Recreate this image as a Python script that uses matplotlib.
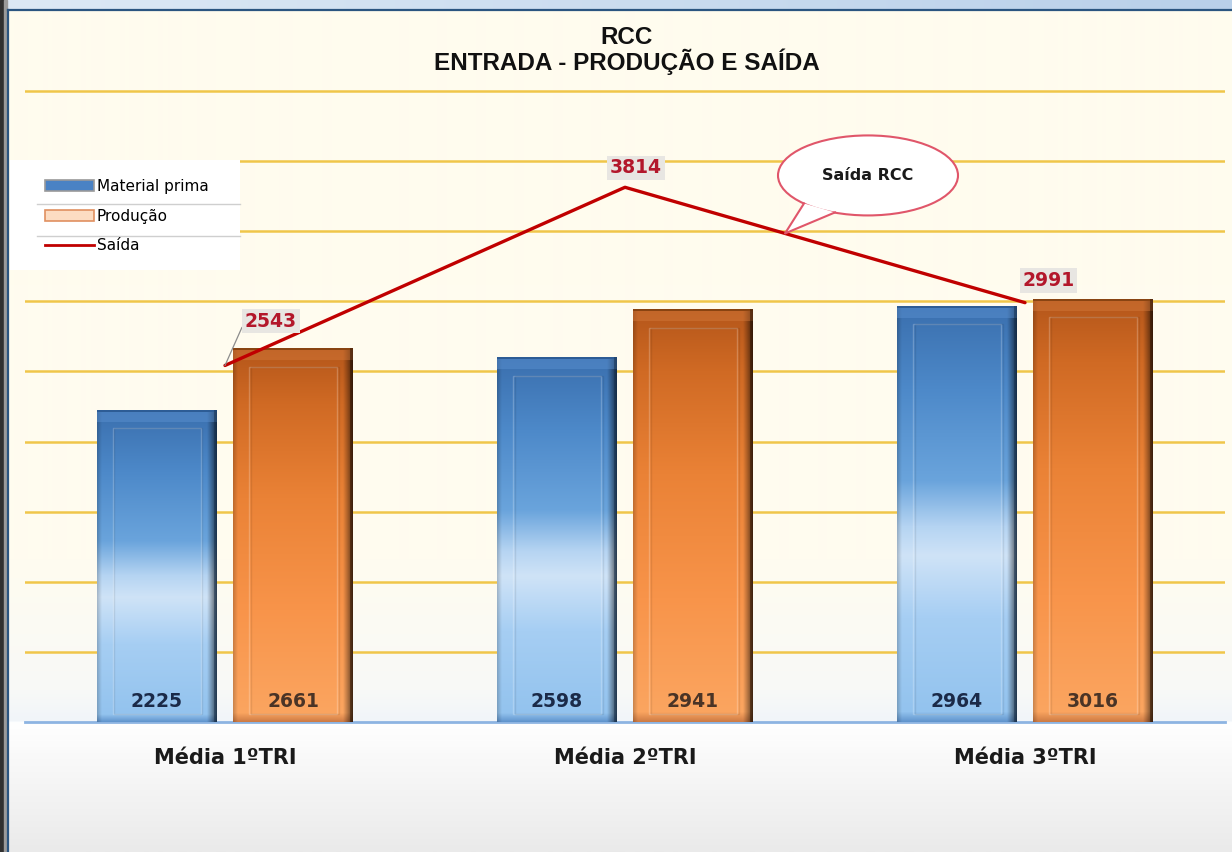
import numpy as np
import matplotlib
matplotlib.use('Agg')
import matplotlib.pyplot as plt
from matplotlib.patches import Rectangle, Ellipse, Polygon, Patch
from matplotlib.lines import Line2D
from matplotlib.colors import to_rgb

# ---------------- data ----------------
categories = ['Média 1ºTRI', 'Média 2ºTRI', 'Média 3ºTRI']
materia_prima = [2225, 2598, 2964]
producao = [2661, 2941, 3016]
saida = [2543, 3814, 2991]
series_names = ['Material prima', 'Produção', 'Saída']
title_lines = ['RCC', 'ENTRADA - PRODUÇÃO E SAÍDA']
callout_text = 'Saída RCC'

W, H = 1232, 852
fig = plt.figure(figsize=(W / 100, H / 100), dpi=100)

# ---------------- background ----------------
bg = fig.add_axes([0, 0, 1, 1], zorder=-10)
bg.set_xlim(0, W)
bg.set_ylim(H, 0)
bg.axis('off')

def vgrad(stops, colors, n):
    f = np.linspace(stops[0], stops[-1], n)
    rgb = [to_rgb(c) for c in colors]
    return np.stack([np.interp(f, stops, [c[i] for c in rgb]) for i in range(3)], axis=-1)

g = vgrad([10, 560, 690, 721, 723, 852],
          ['#FFFCEE', '#FFFCF0', '#F8F9F7', '#F1F5FA', '#FFFFFF', '#EAEAEA'], 842)
bg.imshow(g[:, None, :], extent=[0, W, H, 10], aspect='auto', interpolation='bilinear')
top = vgrad([0, 1], ['#DDE9F5', '#B9D0EA'], 200)
bg.imshow(top[None, :, :], extent=[0, W, 9, 0], aspect='auto', interpolation='bilinear')
bg.plot([8, W], [9.5, 9.5], color='#2B5580', lw=1.6)
bg.add_patch(Rectangle((0, 0), 4, H, color='#303030'))
bg.add_patch(Rectangle((4, 0), 3, H, color='#9A9A9A'))
bg.plot([8, 8], [9.5, H], color='#2B5580', lw=1.6)
bg.set_xlim(0, W)
bg.set_ylim(H, 0)

# ---------------- main axes ----------------
ax = fig.add_axes([25 / W, 130 / H, 1200 / W, 701 / H])
ax.patch.set_alpha(0)
x = np.arange(len(categories))
off, bw = 0.17, 0.30

ax.set_yticks(np.arange(500, 5000, 500))
ax.yaxis.grid(True, color='#F0C64A', lw=1.8, zorder=0)
ax.set_axisbelow(True)
for s in ['left', 'right', 'top']:
    ax.spines[s].set_visible(False)
ax.spines['bottom'].set_color('#8DB4E2')
ax.spines['bottom'].set_linewidth(2)
ax.tick_params(left=False, labelleft=False, bottom=False)
ax.set_xticks(x, categories, fontsize=15, fontweight='bold', color='#1A1A1A',
              family='DejaVu Sans')
ax.tick_params(axis='x', pad=15)

bars_m = ax.bar(x - off, materia_prima, bw, color='none', zorder=2)
bars_p = ax.bar(x + off, producao, bw, color='none', zorder=2)
ax.set_xlim(-0.5, 2.5)
ax.set_ylim(0, 5000)

px_x = 1200 / 3.0
px_y = 701 / 5000.0

blue_stops = ([0.0, 0.025, 0.25, 0.40, 0.47, 0.58, 0.80, 1.0],
              ['#5F93CC', '#93C3EE', '#A6CEF3', '#CFE3F7', '#B5D4F2', '#6AA4DC', '#4D89C9', '#3A6FAE'])
orange_stops = ([0.0, 0.025, 0.30, 0.60, 0.85, 1.0],
                ['#CC7A44', '#FBA560', '#F8944A', '#EA8236', '#D06A24', '#B4561A'])

def draw_bar(patch, stops, colors, edge_dark, top_col, edge_col, zord=3):
    x0, w = patch.get_x(), patch.get_width()
    h = patch.get_height()
    wpx, hpx = int(round(w * px_x)), int(round(h * px_y))
    fy = (np.arange(hpx) + 0.5) / hpx
    rgb = [to_rgb(c) for c in colors]
    col = np.stack([np.interp(fy, stops, [c[i] for c in rgb]) for i in range(3)], axis=-1)
    img = np.repeat(col[:, None, :], wpx, axis=1)
    pxs = np.arange(wpx) + 0.5
    r = wpx - pxs
    shade = np.where(r < 10, 0.30 + 0.70 * (r / 10) ** 0.8, 1.0)
    shade *= np.where(pxs < 5, 0.80 + 0.20 * (pxs / 5), 1.0)
    img = img * shade[None, :, None]
    dt = hpx - (np.arange(hpx) + 0.5)
    tc = np.array(to_rgb(top_col))
    band = (dt < 12) & (dt >= 2)
    img[band] = img[band] * 0.55 + tc * 0.45
    ec = np.array(to_rgb(edge_col))
    img[dt < 2] = ec
    dark = np.array(to_rgb(edge_dark))
    rmask = r < 3
    img[:, rmask] = img[:, rmask] * 0.5 + dark * 0.5
    ax.imshow(np.clip(img, 0, 1), extent=[x0, x0 + w, 0, h], origin='lower',
              aspect='auto', zorder=zord, interpolation='bilinear')
    ix, iy = 16 / px_x, 18 / px_y
    ax.add_patch(Rectangle((x0 + ix, 8 / px_y), w - 2 * ix, h - iy - 8 / px_y,
                           fill=False, ec='white', alpha=0.22, lw=1.0, zorder=zord + 0.1))
    ax.add_patch(Rectangle((x0 + ix + 1.5 / px_x, 8 / px_y), w - 2 * ix, h - iy - 8 / px_y,
                           fill=False, ec='black', alpha=0.08, lw=1.0, zorder=zord + 0.1))

for b in bars_m:
    draw_bar(b, *blue_stops, edge_dark='#15304F', top_col='#5C92D2', edge_col='#2D5C95')
for b in bars_p:
    draw_bar(b, *orange_stops, edge_dark='#2A1406', top_col='#D47A3C', edge_col='#8A4412')

for b, v in zip(bars_m, materia_prima):
    ax.annotate(f'{v}', (b.get_x() + b.get_width() / 2, 0), xytext=(0, 15),
                textcoords='offset points', ha='center', va='center',
                fontsize=13.5, fontweight='bold', color='#1B2A48', zorder=5)
for b, v in zip(bars_p, producao):
    ax.annotate(f'{v}', (b.get_x() + b.get_width() / 2, 0), xytext=(0, 15),
                textcoords='offset points', ha='center', va='center',
                fontsize=13.5, fontweight='bold', color='#4A3426', zorder=5)

ax.set_xlim(-0.5, 2.5)
ax.set_ylim(0, 5000)

# line series
ax.plot(x, saida, color='#C00000', lw=2.4, zorder=6, solid_capstyle='round')
label_offsets = [(33, 32), (8, 14), (17, 16)]
for i, (xi, v) in enumerate(zip(x, saida)):
    kw = {}
    if i == 0:
        kw['arrowprops'] = dict(arrowstyle='-', color='#8C8C8C', lw=0.9,
                                shrinkA=0, shrinkB=0, relpos=(0, 0.5))
    ax.annotate(f'{v}', (xi, v), xytext=label_offsets[i], textcoords='offset points',
                ha='center', va='center', fontsize=13.5, fontweight='bold',
                color='#B3172B', zorder=7,
                bbox=dict(boxstyle='square,pad=0.15', fc='#E8E6E2', ec='none'), **kw)

# callout bubble (display pixels, anchored on the line segment)
fig.canvas.draw()
t = 0.40
tip_d = ax.transData.transform((x[1] + t * (x[2] - x[1]), saida[1] + t * (saida[2] - saida[1])))
cx, cy = tip_d[0] + 83, tip_d[1] + 58
b1 = (cx - 64, cy - 28)
b2 = (cx - 33, cy - 37)
ell = Ellipse((cx, cy), 180, 80, transform=None, fc='white', ec='#E0566A', lw=1.5, zorder=20)
fig.add_artist(ell)
tri = Polygon([b1, tuple(tip_d), b2], closed=True, transform=None, fc='white', ec='none', zorder=21)
fig.add_artist(tri)
fig.add_artist(Line2D([b1[0], tip_d[0], b2[0]], [b1[1], tip_d[1], b2[1]], transform=None,
                      color='#E0566A', lw=1.5, zorder=22))
fig.text(cx / W, cy / H, callout_text, ha='center', va='center', fontsize=11.5,
         fontweight='bold', color='#1A1A1A', zorder=23)

# title
for i, line in enumerate(title_lines):
    fig.text(627 / W, 1 - (37 + 25 * i) / H, line, ha='center', va='center',
             fontsize=17.5, fontweight='bold', family='Liberation Sans',
             color='#111111')

# legend
fig.add_artist(Rectangle((10 / W, 1 - 270 / H), 230 / W, 110 / H, transform=fig.transFigure,
                         fc='white', ec='none', zorder=3))
for yy in [204, 236]:
    fig.add_artist(Line2D([37 / W, 240 / W], [1 - yy / H, 1 - yy / H], transform=fig.transFigure,
                          color='#CFCFCF', lw=1, zorder=4))
handles = [Patch(fc='#4A82C4', ec='#9A9A9A', lw=1.2),
           Patch(fc='#FCDCC2', ec='#E09060', lw=1.2),
           Line2D([], [], color='#C00000', lw=2)]
leg = fig.legend(handles, series_names, loc='center left', bbox_to_anchor=(45 / W, 1 - 216 / H),
                 frameon=False, fontsize=11, handlelength=3.2, handleheight=0.7,
                 handletextpad=0.2, labelspacing=0.95, borderpad=0, borderaxespad=0)
leg.set_zorder(5)

fig.savefig('out.png', dpi=100)
